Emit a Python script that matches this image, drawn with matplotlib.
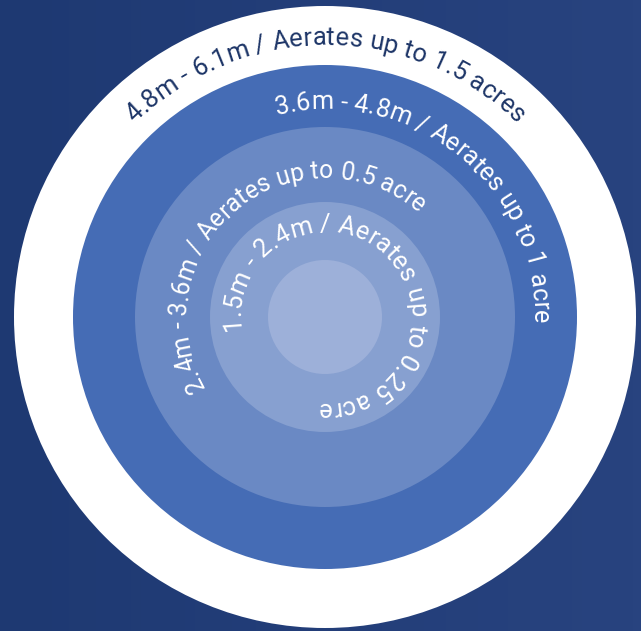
import numpy as np
import matplotlib
matplotlib.use("Agg")
import matplotlib.pyplot as plt
from matplotlib.patches import Circle
from matplotlib.colors import LinearSegmentedColormap
from matplotlib.font_manager import FontProperties

# rings, outermost first (radius in px, colour)
ring_radii = [311, 252, 190, 115, 57]
ring_colors = ["#ffffff", "#456cb5", "#6a89c4", "#87a0d0", "#9db0d9"]

# curved labels, one per ring
labels = [
    "4.8m - 6.1m / Aerates up to 1.5 acres",
    "3.6m - 4.8m / Aerates up to 1 acre",
    "2.4m - 3.6m / Aerates up to 0.5 acre",
    "1.5m - 2.4m / Aerates up to 0.25 acre",
]
label_base = [272, 208, 139, 85]             # baseline radius, px
label_start = [134.5, 103.5, 210.0, 189.0]   # degrees, text runs clockwise
label_end = [45.5, -2.0, 47.5, -95.0]
label_colors = ["#1d3567", "white", "white", "white"]

W, H = 641, 631
cx, cy = 325, 317
bg = "#223d78"

fig = plt.figure(figsize=(W / 100, H / 100), dpi=100)
fig.patch.set_facecolor(bg)
ax = fig.add_axes([0, 0, 1, 1])
ax.set_xlim(0, W)
ax.set_ylim(H, 0)
ax.set_aspect("equal")
ax.axis("off")

# soft left-to-right shading of the photo background
shade = LinearSegmentedColormap.from_list("bg", ["#1e3972", "#233e79",
                                                 "#28437f"])
ax.imshow([np.linspace(0, 1, 64)], cmap=shade, extent=(0, W, H, 0),
          aspect="auto", interpolation="bilinear", zorder=0)

for r, c in zip(ring_radii, ring_colors):
    ax.add_patch(Circle((cx, cy), r, color=c, lw=0, zorder=1))

renderer = fig.canvas.get_renderer()


def text_w(s, prop):
    w, h, d = renderer.get_text_width_height_descent(s, prop, ismath=False)
    return w


def curved_text(text, r_base, a0, a1, color):
    # font size chosen so the string, laid on the baseline, fills the arc
    arc = r_base * np.radians(a0 - a1)
    w10 = text_w(text, FontProperties(family="Roboto", size=10))
    prop = FontProperties(family="Roboto", size=10 * arc / w10)
    for i, ch in enumerate(text):
        if ch == " ":
            continue
        right = text_w(text[:i + 1], prop)
        s = right - text_w(ch, prop) / 2
        th = np.radians(a0) - s / r_base
        x = cx + r_base * np.cos(th)
        y = cy - r_base * np.sin(th)
        ax.text(x, y, ch, fontproperties=prop, color=color,
                ha="center", va="baseline", zorder=2,
                rotation=np.degrees(th) - 90, rotation_mode="anchor")


for t, r, a0, a1, c in zip(labels, label_base, label_start, label_end,
                           label_colors):
    curved_text(t, r, a0, a1, c)

fig.savefig("out.png", dpi=100, facecolor=bg)
